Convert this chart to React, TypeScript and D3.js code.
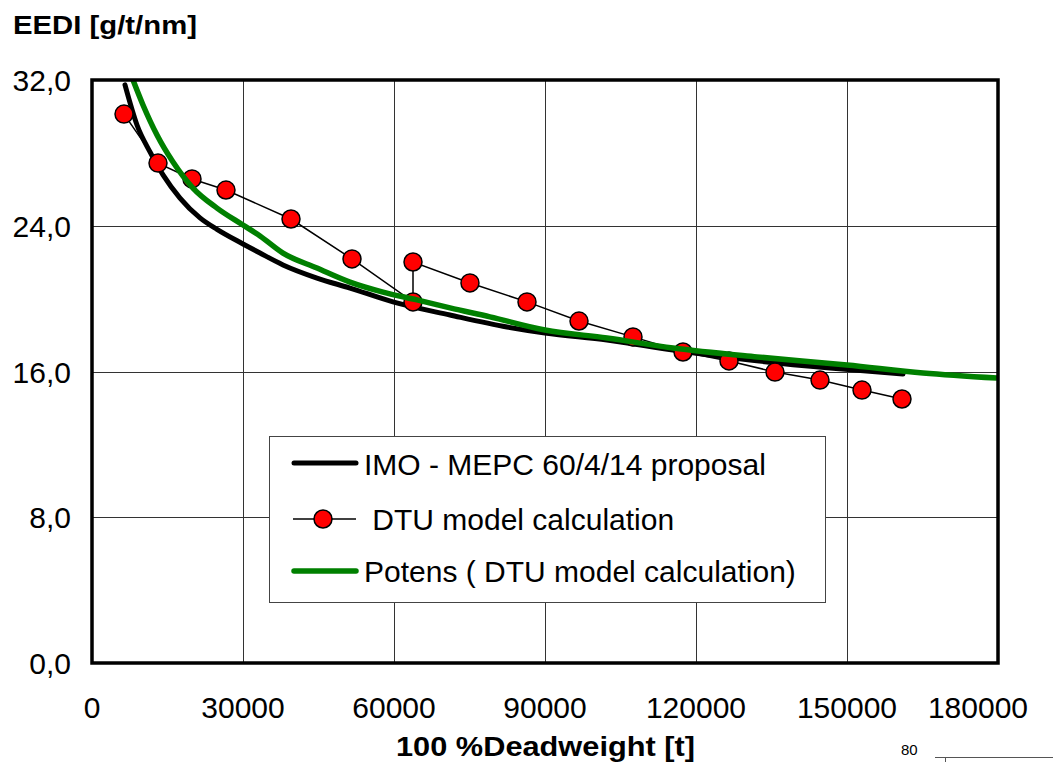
import React, { useEffect, useRef } from "react";
import * as d3 from "d3";

// DTU model calculation (red markers, thin black line)
const dtuDwt = [6358, 13113, 19868, 26623, 39536, 51656, 63775, 63775, 75093, 86424, 96755, 107483, 117417, 126556, 135695, 144636, 152980, 160927];
const dtuEedi = [30.13, 27.44, 26.57, 25.96, 24.37, 22.18, 19.82, 22.01, 20.86, 19.82, 18.77, 17.9, 17.07, 16.58, 15.97, 15.53, 14.98, 14.49];

// IMO - MEPC 60/4/14 proposal (thick black)
const imoDwt = [6556, 8940, 11523, 14106, 17484, 21457, 24834, 30000, 33378, 37948, 44702, 51258, 59801, 71126, 82450, 90000, 102318, 115430, 130728, 146622, 161125];
const imoEedi = [31.73, 29.53, 28.05, 26.79, 25.52, 24.43, 23.8, 23.0, 22.5, 21.85, 21.13, 20.58, 19.82, 19.1, 18.44, 18.11, 17.73, 17.18, 16.63, 16.19, 15.86];

// Potens ( DTU model calculation) (green)
const potDwt = [8146, 10133, 12914, 16093, 20067, 24834, 30000, 33378, 37948, 44702, 51258, 57815, 64570, 71126, 79073, 90000, 102318, 115430, 132119, 150000, 165099, 179801];
const potEedi = [32.0, 30.63, 28.98, 27.5, 26.07, 24.97, 24.04, 23.44, 22.5, 21.68, 20.91, 20.36, 19.93, 19.49, 19.0, 18.28, 17.84, 17.29, 16.8, 16.36, 15.92, 15.64];

const xTicks = [0, 30000, 60000, 90000, 120000, 150000, 180000];
const yTicks = [0, 8, 16, 24, 32];
const yTickLabels = ["0,0", "8,0", "16,0", "24,0", "32,0"];

const legendLabels = ["IMO - MEPC 60/4/14 proposal", " DTU model calculation", "Potens ( DTU model calculation)"];

const FONT = "'Liberation Sans', Arial, sans-serif";

const App = () => {
  const ref = useRef<SVGSVGElement>(null);

  useEffect(() => {
    const svg = d3.select(ref.current);
    svg.selectAll("*").remove();

    const left = 92, right = 998, top = 80, bottom = 663;

    const x = d3.scaleLinear().domain([0, 180000]).range([left, right]);
    const y = d3.scaleLinear().domain([0, 32]).range([bottom, top]);

    svg.append("rect").attr("width", 1053).attr("height", 762).attr("fill", "#fff");

    // grid
    const grid = svg.append("g").attr("shape-rendering", "crispEdges");
    grid.selectAll("line.v")
      .data(xTicks.slice(1, -1))
      .enter()
      .append("line")
      .attr("x1", d => Math.round(x(d)) + 0.5)
      .attr("x2", d => Math.round(x(d)) + 0.5)
      .attr("y1", top)
      .attr("y2", bottom)
      .attr("stroke", "#333")
      .attr("stroke-width", 1);
    grid.selectAll("line.h")
      .data(yTicks.slice(1, -1))
      .enter()
      .append("line")
      .attr("x1", left)
      .attr("x2", right)
      .attr("y1", d => Math.round(y(d)) + 0.5)
      .attr("y2", d => Math.round(y(d)) + 0.5)
      .attr("stroke", "#333")
      .attr("stroke-width", 1);

    svg.append("clipPath").attr("id", "plot-clip")
      .append("rect").attr("x", left).attr("y", top).attr("width", right - left).attr("height", bottom - top);

    const plot = svg.append("g").attr("clip-path", "url(#plot-clip)");

    const line = d3.line<[number, number]>()
      .x(d => x(d[0]))
      .y(d => y(d[1]));
    const smooth = d3.line<[number, number]>()
      .x(d => x(d[0]))
      .y(d => y(d[1]))
      .curve(d3.curveMonotoneX);

    const imo = imoDwt.map((d, i) => [d, imoEedi[i]] as [number, number]);
    const pot = potDwt.map((d, i) => [d, potEedi[i]] as [number, number]);
    const dtu = dtuDwt.map((d, i) => [d, dtuEedi[i]] as [number, number]);

    plot.append("path")
      .attr("d", smooth(imo))
      .attr("fill", "none")
      .attr("stroke", "#000")
      .attr("stroke-width", 5)
      .attr("stroke-linejoin", "round")
      .attr("stroke-linecap", "round");

    plot.append("path")
      .attr("d", line(dtu))
      .attr("fill", "none")
      .attr("stroke", "#000")
      .attr("stroke-width", 1.5);

    plot.selectAll("circle")
      .data(dtu)
      .enter()
      .append("circle")
      .attr("cx", d => x(d[0]))
      .attr("cy", d => y(d[1]))
      .attr("r", 9)
      .attr("fill", "#ff0000")
      .attr("stroke", "#000")
      .attr("stroke-width", 1.5);

    plot.append("path")
      .attr("d", smooth(pot))
      .attr("fill", "none")
      .attr("stroke", "#008000")
      .attr("stroke-width", 5.5)
      .attr("stroke-linejoin", "round");

    // frame
    svg.append("rect")
      .attr("x", left)
      .attr("y", top)
      .attr("width", right - left)
      .attr("height", bottom - top)
      .attr("fill", "none")
      .attr("stroke", "#000")
      .attr("stroke-width", 3.5);

    // y tick labels
    svg.selectAll("text.ytick")
      .data(yTicks)
      .enter()
      .append("text")
      .attr("x", 71)
      .attr("y", d => y(d) + 11)
      .attr("text-anchor", "end")
      .attr("font-family", FONT)
      .attr("font-size", 30)
      .attr("fill", "#000")
      .text((d, i) => yTickLabels[i]);

    // x tick labels
    svg.selectAll("text.xtick")
      .data(xTicks)
      .enter()
      .append("text")
      .attr("x", d => (d === 180000 ? x(d) - 20 : x(d)))
      .attr("y", 718)
      .attr("text-anchor", "middle")
      .attr("font-family", FONT)
      .attr("font-size", 30)
      .attr("fill", "#000")
      .text(d => String(d));

    // titles
    svg.append("text")
      .attr("x", 13)
      .attr("y", 34)
      .attr("font-family", FONT)
      .attr("font-weight", "bold")
      .attr("font-size", 26)
      .attr("textLength", 184)
      .attr("lengthAdjust", "spacingAndGlyphs")
      .text("EEDI [g/t/nm]");

    svg.append("text")
      .attr("x", 396)
      .attr("y", 756)
      .attr("font-family", FONT)
      .attr("font-weight", "bold")
      .attr("font-size", 28)
      .attr("textLength", 299)
      .attr("lengthAdjust", "spacingAndGlyphs")
      .text("100 %Deadweight [t]");

    // legend
    const lg = svg.append("g");
    lg.append("rect")
      .attr("x", 269.5)
      .attr("y", 436.5)
      .attr("width", 556)
      .attr("height", 166)
      .attr("fill", "#fff")
      .attr("stroke", "#444")
      .attr("stroke-width", 1);

    const rowY = [463, 519, 571];
    const baseY = [475, 530, 582];

    lg.append("line")
      .attr("x1", 294).attr("x2", 356).attr("y1", rowY[0]).attr("y2", rowY[0])
      .attr("stroke", "#000").attr("stroke-width", 5).attr("stroke-linecap", "round");
    lg.append("line")
      .attr("x1", 293).attr("x2", 356).attr("y1", rowY[1]).attr("y2", rowY[1])
      .attr("stroke", "#000").attr("stroke-width", 1.5);
    lg.append("circle")
      .attr("cx", 323).attr("cy", rowY[1]).attr("r", 9)
      .attr("fill", "#ff0000").attr("stroke", "#000").attr("stroke-width", 1.5);
    lg.append("line")
      .attr("x1", 294).attr("x2", 356).attr("y1", rowY[2]).attr("y2", rowY[2])
      .attr("stroke", "#008000").attr("stroke-width", 5.5).attr("stroke-linecap", "round");

    lg.selectAll("text")
      .data(legendLabels)
      .enter()
      .append("text")
      .attr("x", 364)
      .attr("y", (d, i) => baseY[i])
      .attr("font-family", FONT)
      .attr("font-size", 30)
      .attr("fill", "#000")
      .attr("xml:space", "preserve")
      .style("white-space", "pre")
      .text(d => d);

    // edge of the neighbouring chart at the bottom right
    svg.append("text")
      .attr("x", 901)
      .attr("y", 755)
      .attr("font-family", FONT)
      .attr("font-size", 15)
      .text("80");
    svg.append("line")
      .attr("x1", 935).attr("x2", 1053).attr("y1", 757.5).attr("y2", 757.5)
      .attr("stroke", "#555").attr("stroke-width", 1);
    svg.append("line")
      .attr("x1", 945.5).attr("x2", 945.5).attr("y1", 757).attr("y2", 762)
      .attr("stroke", "#555").attr("stroke-width", 1);
  }, []);

  return (
    <svg
      ref={ref}
      width={1053}
      height={762}
      style={{ position: "absolute", left: 0, top: 0, display: "block" }}
    ></svg>
  );
};

export default App;
